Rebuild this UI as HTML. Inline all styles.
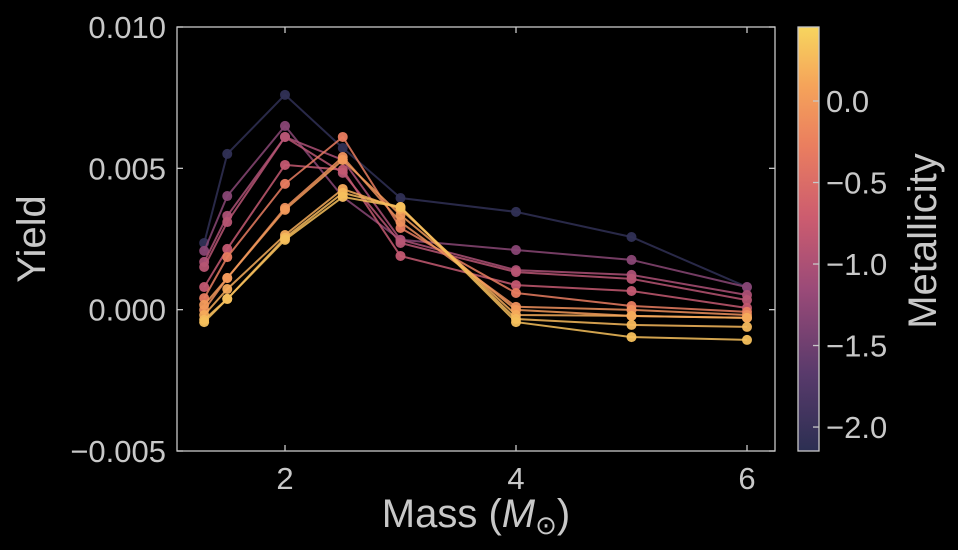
<!DOCTYPE html>
<html><head><meta charset="utf-8">
<style>
html,body{margin:0;padding:0;background:#000;}
svg{display:block;font-family:"Liberation Sans",sans-serif;}
</style></head>
<body>
<svg id="chart" width="958" height="550" viewBox="0 0 958 550">
<defs>
<linearGradient id="cbgrad" x1="0" y1="1" x2="0" y2="0">
<stop offset="0" stop-color="#2c2f52"/>
<stop offset="0.18" stop-color="#583a6b"/>
<stop offset="0.38" stop-color="#9a4a78"/>
<stop offset="0.55" stop-color="#cc5c6f"/>
<stop offset="0.72" stop-color="#ea7e5f"/>
<stop offset="0.86" stop-color="#f5a35a"/>
<stop offset="1" stop-color="#f7d55e"/>
</linearGradient>
<clipPath id="plotclip"><rect x="177" y="27" width="598" height="424"/></clipPath>
</defs>
<g id="plot"></g>
</svg>
<script>
const masses = [1.3, 1.5, 2, 2.5, 3, 4, 5, 6];
const metallicities = [-2.1, -1.3, -1.0, -0.9, -0.8, -0.3, -0.1, 0.0, 0.15, 0.25, 0.3];
const s0 = [2.36, 5.51, 7.60, 5.72, 3.95, 3.46, 2.57, 0.80];
const s1 = [2.08, 4.02, 6.50, 3.99, 2.47, 2.11, 1.76, 0.80];
const s2 = [1.69, 3.32, 6.11, 5.30, 2.47, 1.40, 1.23, 0.52];
const s3 = [1.51, 3.10, 6.11, 4.84, 2.36, 1.33, 1.09, 0.34];
const s4 = [0.80, 2.15, 5.12, 4.95, 1.90, 0.87, 0.66, 0.06];
const s5 = [0.41, 1.86, 4.45, 6.11, 2.89, 0.59, 0.13, -0.08];
const s6 = [-0.01, 1.12, 3.60, 5.40, 3.10, 0.10, -0.01, -0.19];
const s7 = [0.17, 1.12, 3.53, 5.30, 3.35, -0.01, -0.22, -0.29];
const s8 = [-0.19, 0.73, 2.64, 4.27, 3.56, -0.19, -0.22, -0.29];
const s9 = [-0.36, 0.38, 2.54, 4.13, 3.63, -0.33, -0.54, -0.61];
const s10 = [-0.44, 0.38, 2.47, 3.99, 3.63, -0.44, -0.97, -1.07];
const seriesValues = [s0,s1,s2,s3,s4,s5,s6,s7,s8,s9,s10];
const yTicks = [-0.005, 0.000, 0.005, 0.010];
const yTickLabels = ["\u22120.005", "0.000", "0.005", "0.010"];
const xTicks = [2, 4, 6];
const xTickLabels = ["2", "4", "6"];
const cbTicks = [0.0, -0.5, -1.0, -1.5, -2.0];
const cbTickLabels = ["0.0", "\u22120.5", "\u22121.0", "\u22121.5", "\u22122.0"];

const NS = "http://www.w3.org/2000/svg";
const L = 177, R = 775, T = 27, B = 451;
const xScale = m => 285 + (m - 2) * 115.5;
const yScale = v => B - (v - (-0.005)) / 0.015 * (B - T);
const cbMin = -2.147, cbMax = 0.454, cbT = 27, cbB = 451, cbL = 798, cbR = 819;
const cbScale = z => cbB - (z - cbMin) / (cbMax - cbMin) * (cbB - cbT);
const stops = [[0,[44,47,82]],[0.18,[88,58,107]],[0.38,[154,74,120]],[0.55,[204,92,111]],[0.72,[234,126,95]],[0.86,[245,163,90]],[1,[247,213,94]]];
function cmap(z){
  const t = Math.max(0, Math.min(1, (z - cbMin) / (cbMax - cbMin)));
  for (let i = 1; i < stops.length; i++) {
    if (t <= stops[i][0]) {
      const a = stops[i-1], b = stops[i], f = (t - a[0]) / (b[0] - a[0]);
      const c = a[1].map((v, k) => Math.round(v + (b[1][k] - v) * f));
      return `rgb(${c[0]},${c[1]},${c[2]})`;
    }
  }
  return "rgb(247,213,94)";
}
function mk(tag, attrs, parent){
  const e = document.createElementNS(NS, tag);
  for (const k in attrs) e.setAttribute(k, attrs[k]);
  parent.appendChild(e);
  return e;
}
const g = document.getElementById("plot");
const axCol = "#c8c8c8";

const frame = mk("rect", {x:L, y:T, width:R-L, height:B-T, fill:"none", stroke:axCol, "stroke-width":1.3}, g);



const dataG = mk("g", {"clip-path":"url(#plotclip)"}, g);


seriesValues.forEach((vals, i) => {
  const col = cmap(metallicities[i]);
  const pts = vals.map((v, j) => xScale(masses[j]).toFixed(1) + "," + yScale(v / 1000).toFixed(1)).join(" ");
  const pl = mk("polyline", {points:pts, fill:"none", stroke:col, "stroke-width":2, "stroke-opacity":0.85}, dataG);
  
  
  vals.forEach((v, j) => {
    const c = mk("circle", {cx:xScale(masses[j]), cy:yScale(v / 1000), r:5, fill:col, "fill-opacity":0.95}, dataG);
    
    
  });
});

yTicks.forEach((v, i) => {
  const y = yScale(v);
  const t1 = mk("line", {x1:L, x2:L+6, y1:y, y2:y, stroke:axCol, "stroke-width":1.3}, g);
  
  
  const t2 = mk("line", {x1:R-6, x2:R, y1:y, y2:y, stroke:axCol, "stroke-width":1.3}, g);
  
  
  const tx = mk("text", {x:L-11, y:y+11, "text-anchor":"end", "font-size":31, fill:axCol}, g);
  tx.textContent = yTickLabels[i];
  
  
});
xTicks.forEach((m, i) => {
  const x = xScale(m);
  const t1 = mk("line", {x1:x, x2:x, y1:B-6, y2:B, stroke:axCol, "stroke-width":1.3}, g);
  
  
  const t2 = mk("line", {x1:x, x2:x, y1:T, y2:T+6, stroke:axCol, "stroke-width":1.3}, g);
  
  
  const tx = mk("text", {x:x, y:B+38, "text-anchor":"middle", "font-size":31, fill:axCol}, g);
  tx.textContent = xTickLabels[i];
  
  
});

const xt = mk("text", {x:476, y:527, "text-anchor":"middle", "font-size":40, fill:axCol}, g);
xt.innerHTML = 'Mass (<tspan font-style="italic">M</tspan><tspan font-size="26" dy="7">\u2299</tspan><tspan dy="-7">)</tspan>';


const yt = mk("text", {x:0, y:0, transform:"translate(45,239) rotate(-90)", "text-anchor":"middle", "font-size":40, fill:axCol}, g);
yt.textContent = "Yield";



const cb = mk("rect", {x:cbL, y:cbT, width:cbR-cbL, height:cbB-cbT, fill:"url(#cbgrad)", stroke:axCol, "stroke-width":1.3}, g);


cbTicks.forEach((z, i) => {
  const y = cbScale(z);
  const t = mk("line", {x1:cbR-6, x2:cbR, y1:y, y2:y, stroke:axCol, "stroke-width":1.3}, g);
  
  
  const tx = mk("text", {x:826, y:y+11, "font-size":31, fill:axCol}, g);
  tx.textContent = cbTickLabels[i];
  
  
});
const ct = mk("text", {x:0, y:0, transform:"translate(936,241) rotate(-90)", "text-anchor":"middle", "font-size":40, fill:axCol}, g);
ct.textContent = "Metallicity";


</script>
</body></html>
